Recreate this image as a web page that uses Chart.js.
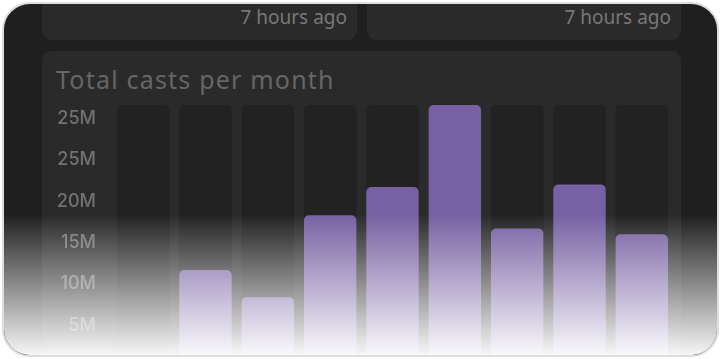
<!DOCTYPE html>
<html>
<head>
<meta charset="utf-8">
<script src="https://cdn.jsdelivr.net/npm/chart.js@4.4.1/dist/chart.umd.min.js"></script>
<style>
  html, body { margin: 0; padding: 0; background: #ffffff; width: 721px; height: 359px; overflow: hidden; }
  .frame {
    position: absolute; left: 2px; top: 2px; width: 713px; height: 351px;
    border: 2px solid #dedede; border-radius: 28px; background: #1f1f1f; overflow: hidden;
    font-family: "Noto Sans", sans-serif;
  }
  .card { position: absolute; background: #2a2a2a; border-radius: 9px; }
  .stamp { position: absolute; right: 10px; font-size: 19px; color: #787878; }
  .title { position: absolute; left: 14px; top: 11px; font-size: 25px; line-height: 34px; letter-spacing: 1.2px; color: #666666; }
  .plot { position: absolute; left: 38px; top: 96px; width: 639px; height: 267px; }
  .fade {
    position: absolute; left: 0; right: 0; top: 0; bottom: 0; pointer-events: none;
    background: linear-gradient(to bottom, rgba(255,255,255,0) 0px, rgba(255,255,255,0) 210px, rgba(255,255,255,0.97) 352px);
  }
</style>
</head>
<body>
<div class="frame">
  <div class="card" style="left:38px; top:-14px; width:315px; height:50px;">
    <div class="stamp" style="top:14px;">7 hours ago</div>
  </div>
  <div class="card" style="left:363px; top:-14px; width:314px; height:50px;">
    <div class="stamp" style="top:14px;">7 hours ago</div>
  </div>
  <div class="card" style="left:38px; top:47px; width:639px; height:340px;">
    <div class="title">Total casts per month</div>
  </div>
  <div class="plot"><canvas id="chart"></canvas></div>
  <div class="fade"></div>
</div>
<script>
// months shown as bars (axis labels are hidden in the original)
const months = ['Jan', 'Feb', 'Mar', 'Apr', 'May', 'Jun', 'Jul', 'Aug', 'Sep'];
// casts per month
const castsPerMonth = [1.5e6, 11.7e6, 8.4e6, 18.3e6, 21.7e6, 31.6e6, 16.7e6, 22.0e6, 16.0e6];
// dark track behind every bar
const trackValues = [31.6e6, 31.6e6, 31.6e6, 31.6e6, 31.6e6, 31.6e6, 31.6e6, 31.6e6, 31.6e6];
// y ticks as printed (the top one really says 25M twice)
const tickValues = [5e6, 10e6, 15e6, 20e6, 25e6, 30e6];
const tickLabels = ['5M', '10M', '15M', '20M', '25M', '25M'];

const ctx = document.getElementById('chart').getContext('2d');
new Chart(ctx, {
  type: 'bar',
  data: {
    labels: months,
    datasets: [
      {
        data: castsPerMonth,
        backgroundColor: '#7761a3',
        borderRadius: 5,
        borderSkipped: false,
        grouped: false,
        order: 0,
      },
      {
        data: trackValues,
        backgroundColor: '#222222',
        borderRadius: 5,
        borderSkipped: false,
        grouped: false,
        order: 1,
      },
    ],
  },
  options: {
    responsive: true,
    maintainAspectRatio: false,
    animation: false,
    devicePixelRatio: 1,
    layout: { padding: { top: 5, right: 8, bottom: 0, left: 0 } },
    datasets: { bar: { categoryPercentage: 1, barPercentage: 0.842 } },
    plugins: { legend: { display: false }, tooltip: { enabled: false } },
    scales: {
      x: { display: false },
      y: {
        min: 0,
        max: 31.6e6,
        grid: { display: false, drawTicks: false },
        border: { display: false },
        afterBuildTicks(scale) {
          scale.ticks = tickValues.map(v => ({ value: v }));
        },
        afterFit(scale) {
          // fixed axis width, and no extra room kept for the labels above/below
          scale.width = 70;
          scale.paddingTop = 0;
          scale.paddingBottom = 0;
        },
        ticks: {
          padding: 16,
          color: '#727272',
          font: { family: 'Inter', size: 18, weight: 500 },
          callback(value) {
            const i = tickValues.indexOf(value);
            return i >= 0 ? tickLabels[i] : '';
          },
        },
      },
    },
  },
});
</script>
</body>
</html>
